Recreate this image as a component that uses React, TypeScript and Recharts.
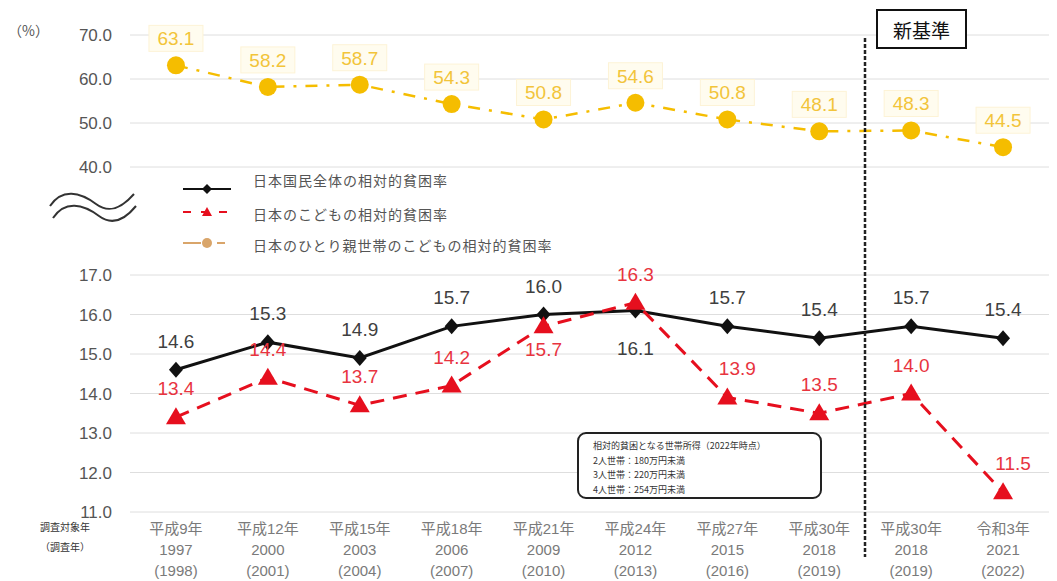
import { LineChart, Line, XAxis, YAxis, CartesianGrid, LabelList } from 'recharts';

const categories = ['平成9年', '平成12年', '平成15年', '平成18年', '平成21年', '平成24年', '平成27年', '平成30年', '平成30年', '令和3年'];
const targetYears = ['1997', '2000', '2003', '2006', '2009', '2012', '2015', '2018', '2018', '2021'];
const surveyYears = ['(1998)', '(2001)', '(2004)', '(2007)', '(2010)', '(2013)', '(2016)', '(2019)', '(2019)', '(2022)'];

const overallRate = [14.6, 15.3, 14.9, 15.7, 16.0, 16.1, 15.7, 15.4, 15.7, 15.4];
const childRate = [13.4, 14.4, 13.7, 14.2, 15.7, 16.3, 13.9, 13.5, 14.0, 11.5];
const singleParentRate = [63.1, 58.2, 58.7, 54.3, 50.8, 54.6, 50.8, 48.1, 48.3, 44.5];

const upperTicks = [40, 50, 60, 70];
const lowerTicks = [11, 12, 13, 14, 15, 16, 17];
const xTicks = categories.map((_, i) => i);

const seriesNames = ['日本国民全体の相対的貧困率', '日本のこどもの相対的貧困率', '日本のひとり親世帯のこどもの相対的貧困率'];
const noteLines = ['相対的貧困となる世帯所得（2022年時点）', '2人世帯：180万円未満', '3人世帯：220万円未満', '4人世帯：254万円未満'];

const data = categories.map((c, i) => ({
  i,
  cat: c,
  overall: overallRate[i],
  child: childRate[i],
  single: singleParentRate[i],
}));

const FONT = "'Liberation Sans', 'Noto Sans CJK JP', sans-serif";
const JP = "'Noto Sans CJK JP', sans-serif";
const W = 1057;
const H = 581;
const BLACK = '#111';
const RED = '#e60f1e';
const GOLD = '#f5bd00';

// labels that sit under the point instead of above
const overallBelow = new Set([5]);
const childBelow = new Set([4]);

const Diamond = (props: any) => {
  const { cx, cy, index } = props;
  if (cx == null || cy == null) return <g key={index} />;
  return <path key={index} d={`M${cx},${cy - 8} L${cx + 7},${cy} L${cx},${cy + 8} L${cx - 7},${cy} Z`} fill={BLACK} />;
};

const Triangle = (props: any) => {
  const { cx, cy, index } = props;
  if (cx == null || cy == null) return <g key={index} />;
  return <path key={index} d={`M${cx},${cy - 10} L${cx + 10},${cy + 7} L${cx - 10},${cy + 7} Z`} fill={RED} />;
};

const Circle = (props: any) => {
  const { cx, cy, index } = props;
  if (cx == null || cy == null) return <g key={index} />;
  return <circle key={index} cx={cx} cy={cy} r={9} fill={GOLD} />;
};

const pointLabel = (color: string, below: Set<number>, belowGap: number, shiftRight: Set<number> = new Set()) => (props: any) => {
  const { x, y, value, index } = props;
  const down = below.has(index);
  const dx = shiftRight.has(index) ? 10 : 0;
  return (
    <text
      x={x + dx}
      y={down ? y + belowGap : y - 22}
      textAnchor="middle"
      fill={color}
      fontSize={19}
      fontFamily={FONT}
    >
      {Number(value).toFixed(1)}
    </text>
  );
};

const goldLabel = (props: any) => {
  const { x, y, value } = props;
  return (
    <g>
      <rect x={x - 27} y={y - 40} width={54} height={26} fill="#fffcef" stroke="#fdf3d6" />
      <text x={x} y={y - 20} textAnchor="middle" fill="#f2c43a" fontSize={19} fontFamily={FONT}>
        {Number(value).toFixed(1)}
      </text>
    </g>
  );
};

const CategoryTick = (props: any) => {
  const { x, y, payload } = props;
  const i = payload.value;
  return (
    <text x={x} y={y} textAnchor="middle" fill="#7a7a7a" fontSize={15} fontFamily={FONT}>
      <tspan x={x} dy={14}>{categories[i]}</tspan>
      <tspan x={x} dy={21}>{targetYears[i]}</tspan>
      <tspan x={x} dy={21}>{surveyYears[i]}</tspan>
    </text>
  );
};

const LegendIcon = ({ kind }: { kind: number }) => (
  <svg width={52} height={14}>
    {kind === 0 && (
      <>
        <line x1={2} y1={7} x2={50} y2={7} stroke={BLACK} strokeWidth={2} />
        <path d="M26,2 L31,7 L26,12 L21,7 Z" fill={BLACK} />
      </>
    )}
    {kind === 1 && (
      <>
        <line x1={2} y1={7} x2={50} y2={7} stroke={RED} strokeWidth={2} strokeDasharray="8 10" />
        <path d="M26,2 L31,11 L21,11 Z" fill={RED} />
      </>
    )}
    {kind === 2 && (
      <>
        <line x1={2} y1={7} x2={20} y2={7} stroke="#d9a56a" strokeWidth={2} />
        <line x1={36} y1={7} x2={44} y2={7} stroke="#d9a56a" strokeWidth={2} />
        <circle cx={26} cy={7} r={5} fill="#d9a56a" />
      </>
    )}
  </svg>
);

const legendTop = [170, 204, 235];
const legendIconTop = [182, 205, 236];

export default function App() {
  return (
    <div style={{ position: 'relative', width: W, height: H, background: '#fff', fontFamily: FONT }}>
      <style>{'body{margin:0}'}</style>

      {/* upper section: single-parent households */}
      <div style={{ position: 'absolute', left: 0, top: 0 }}>
        <LineChart width={W} height={H} data={data} margin={{ top: 35, right: 8, bottom: H - 167, left: 60 }}>
          <CartesianGrid vertical={false} stroke="#dedede" />
          <XAxis dataKey="i" type="number" domain={[-0.5, 9.5]} ticks={xTicks} hide />
          <YAxis
            domain={[40, 70]}
            ticks={upperTicks}
            width={70}
            axisLine={false}
            tickLine={false}
            tickMargin={12}
            tickFormatter={(v: number) => v.toFixed(1)}
            tick={{ fill: '#555', fontSize: 17, fontFamily: FONT }}
          />
          <Line
            dataKey="single"
            stroke={GOLD}
            strokeWidth={2.5}
            strokeDasharray="12 9 3 9"
            dot={Circle}
            activeDot={false}
            isAnimationActive={false}
          >
            <LabelList dataKey="single" content={goldLabel} />
          </Line>
        </LineChart>
      </div>

      {/* lower section: overall and children */}
      <div style={{ position: 'absolute', left: 0, top: 0 }}>
        <LineChart width={W} height={H} data={data} margin={{ top: 275, right: 8, bottom: 9, left: 60 }}>
          <CartesianGrid vertical={false} stroke="#dedede" />
          <XAxis
            dataKey="i"
            type="number"
            domain={[-0.5, 9.5]}
            ticks={xTicks}
            height={60}
            axisLine={false}
            tickLine={false}
            tick={CategoryTick}
            interval={0}
          />
          <YAxis
            domain={[11, 17]}
            ticks={lowerTicks}
            width={70}
            axisLine={false}
            tickLine={false}
            tickMargin={12}
            tickFormatter={(v: number) => v.toFixed(1)}
            tick={{ fill: '#555', fontSize: 17, fontFamily: FONT }}
          />
          <Line
            dataKey="overall"
            stroke={BLACK}
            strokeWidth={3}
            dot={Diamond}
            activeDot={false}
            isAnimationActive={false}
          >
            <LabelList dataKey="overall" content={pointLabel('#3f3f3f', overallBelow, 44)} />
          </Line>
          <Line
            dataKey="child"
            stroke={RED}
            strokeWidth={3}
            strokeDasharray="14 9"
            dot={Triangle}
            activeDot={false}
            isAnimationActive={false}
          >
            <LabelList dataKey="child" content={pointLabel('#e8343f', childBelow, 30, new Set([6, 9]))} />
          </Line>
        </LineChart>
      </div>

      {/* decorations: axis break, divider */}
      <svg width={W} height={H} style={{ position: 'absolute', left: 0, top: 0, pointerEvents: 'none' }}>
        <path d="M50,206 C62,188 80,192 96,204 C108,213 120,210 134,194" fill="none" stroke="#333" strokeWidth={2} />
        <path d="M53,218 C65,200 83,204 99,216 C111,225 123,222 136,206" fill="none" stroke="#333" strokeWidth={2} />
        <line x1={865} y1={38} x2={865} y2={557} stroke="#222" strokeWidth={2.5} strokeDasharray="4 2" />
      </svg>

      <div style={{ position: 'absolute', left: 8, top: 20, fontSize: 14, color: '#555', fontFamily: JP }}>（%）</div>

      <div
        style={{
          position: 'absolute',
          left: 876,
          top: 9,
          width: 87,
          height: 36,
          border: '2.5px solid #111',
          background: '#fff',
          fontFamily: JP,
          fontSize: 19,
          color: '#111',
          display: 'flex',
          alignItems: 'center',
          justifyContent: 'center',
        }}
      >
        新基準
      </div>

      {seriesNames.map((name, k) => (
        <div key={name}>
          <div style={{ position: 'absolute', left: 181, top: legendIconTop[k] }}>
            <LegendIcon kind={k} />
          </div>
          <div
            style={{
              position: 'absolute',
              left: 253,
              top: legendTop[k],
              fontSize: 14,
              color: '#555',
              fontFamily: JP,
              letterSpacing: 1,
              whiteSpace: 'nowrap',
            }}
          >
            {name}
          </div>
        </div>
      ))}

      <div
        style={{
          position: 'absolute',
          left: 577,
          top: 432,
          width: 245,
          height: 67,
          border: '2px solid #222',
          borderRadius: 9,
          background: '#fff',
          padding: '5px 0 0 14px',
          boxSizing: 'border-box',
          fontFamily: JP,
          fontSize: 9,
          lineHeight: '14.5px',
          color: '#333',
        }}
      >
        {noteLines.map((t) => (
          <div key={t}>{t}</div>
        ))}
      </div>

      <div style={{ position: 'absolute', left: 40, top: 517, fontFamily: JP, fontSize: 10, color: '#333', lineHeight: '20px', textAlign: 'center' }}>
        <div>調査対象年</div>
        <div>（調査年）</div>
      </div>
    </div>
  );
}
